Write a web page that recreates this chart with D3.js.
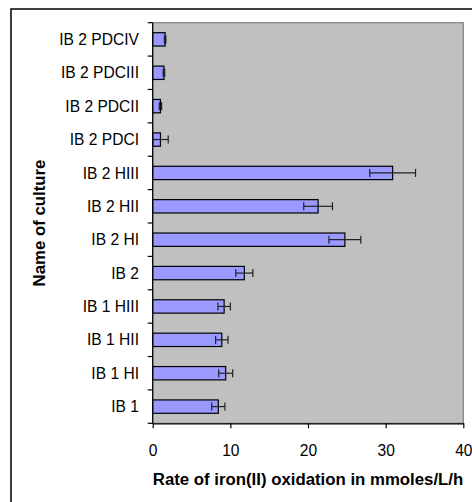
<!DOCTYPE html>
<html><head><meta charset="utf-8">
<script src="https://cdn.jsdelivr.net/npm/d3@7"></script>
<style>body{margin:0;background:#fff;}svg{display:block;}</style>
</head><body>
<svg id="c" width="472" height="502"></svg>
<script>
const categories = ["IB 2 PDCIV","IB 2 PDCIII","IB 2 PDCII","IB 2 PDCI","IB 2 HIII","IB 2 HII","IB 2 HI","IB 2","IB 1 HIII","IB 1 HII","IB 1 HI","IB 1"];
const rates = [1.6,1.45,1.0,1.0,30.9,21.3,24.75,11.8,9.2,8.9,9.4,8.45];
const errors = [0.1,0.1,0.15,1.0,2.95,1.85,2.05,1.1,0.8,0.8,0.9,0.85];
const xTicks = [0,10,20,30,40];
const xTitle = "Rate of iron(II) oxidation in mmoles/L/h";
const yTitle = "Name of culture";

const FONT = "Liberation Sans, Arial, sans-serif";
const svg = d3.select("#c");
const m = {left:152.7, top:22.7, right:463.3, bottom:423.3};
svg.append("rect").attr("x",11).attr("y",9).attr("width",500).attr("height",520)
  .attr("fill","none").attr("stroke","#000").attr("stroke-width",1.5);

const x = d3.scaleLinear().domain([0,40]).range([m.left,m.right]);
const y = d3.scaleBand().domain(categories).range([m.top,m.bottom]).paddingInner(0.6).paddingOuter(0.3);

svg.append("rect").attr("x",m.left).attr("y",m.top).attr("width",m.right-m.left).attr("height",m.bottom-m.top)
  .attr("fill","#C0C0C0").attr("stroke","#808080").attr("stroke-width",1.2);

const data = categories.map((c,i)=>({c, v:rates[i], e:errors[i]}));
svg.selectAll(".bar").data(data).join("rect")
  .attr("x",x(0)).attr("y",d=>y(d.c)).attr("width",d=>x(d.v)-x(0)).attr("height",y.bandwidth())
  .attr("fill","#9999FF").attr("stroke","#000").attr("stroke-width",1.2);

const eg = svg.append("g").attr("stroke","#222").attr("stroke-width",1.2);
data.forEach(d=>{
  const cy = y(d.c)+y.bandwidth()/2;
  const lo = x(Math.max(0,d.v-d.e)), hi = x(d.v+d.e);
  eg.append("line").attr("x1",lo).attr("x2",hi).attr("y1",cy).attr("y2",cy);
  eg.append("line").attr("x1",lo).attr("x2",lo).attr("y1",cy-4).attr("y2",cy+4);
  eg.append("line").attr("x1",hi).attr("x2",hi).attr("y1",cy-4).attr("y2",cy+4);
});

// y axis
const yAxisG = svg.append("g");
yAxisG.append("line").attr("x1",m.left).attr("x2",m.left).attr("y1",m.top).attr("y2",m.bottom).attr("stroke","#000").attr("stroke-width",1.2);
d3.range(categories.length+1).forEach(i=>{
  const ty = m.top + i*(m.bottom-m.top)/categories.length;
  yAxisG.append("line").attr("x1",m.left-5).attr("x2",m.left).attr("y1",ty).attr("y2",ty).attr("stroke","#000").attr("stroke-width",1.2);
});
svg.selectAll(".cl").data(categories).join("text")
  .attr("x",139).attr("y",d=>y(d)+y.bandwidth()/2).attr("dy","0.36em")
  .attr("text-anchor","end").attr("font-family",FONT).attr("font-size",15.6).text(d=>d);

// x axis
const xAxis = d3.axisBottom(x).tickValues(xTicks).tickSize(5).tickSizeOuter(0);
const xg = svg.append("g").attr("transform",`translate(0,${m.bottom})`).call(xAxis);
xg.select(".domain").attr("stroke","#000").attr("stroke-width",1.2);
xg.selectAll(".tick line").attr("stroke","#000").attr("stroke-width",1.2);
xg.selectAll(".tick text").attr("font-family",FONT).attr("font-size",15.6).attr("fill","#000")
  .attr("y",0).attr("dy",0).attr("transform","translate(0,32.5)");

svg.append("text").attr("x",(m.left+m.right)/2).attr("y",485)
  .attr("text-anchor","middle").attr("font-family",FONT).attr("font-weight","bold").attr("font-size",16.8).text(xTitle);
svg.append("text").attr("transform",`translate(45,${(m.top+m.bottom)/2}) rotate(-90)`)
  .attr("text-anchor","middle").attr("font-family",FONT).attr("font-weight","bold").attr("font-size",16.8).text(yTitle);
</script>
</body></html>
